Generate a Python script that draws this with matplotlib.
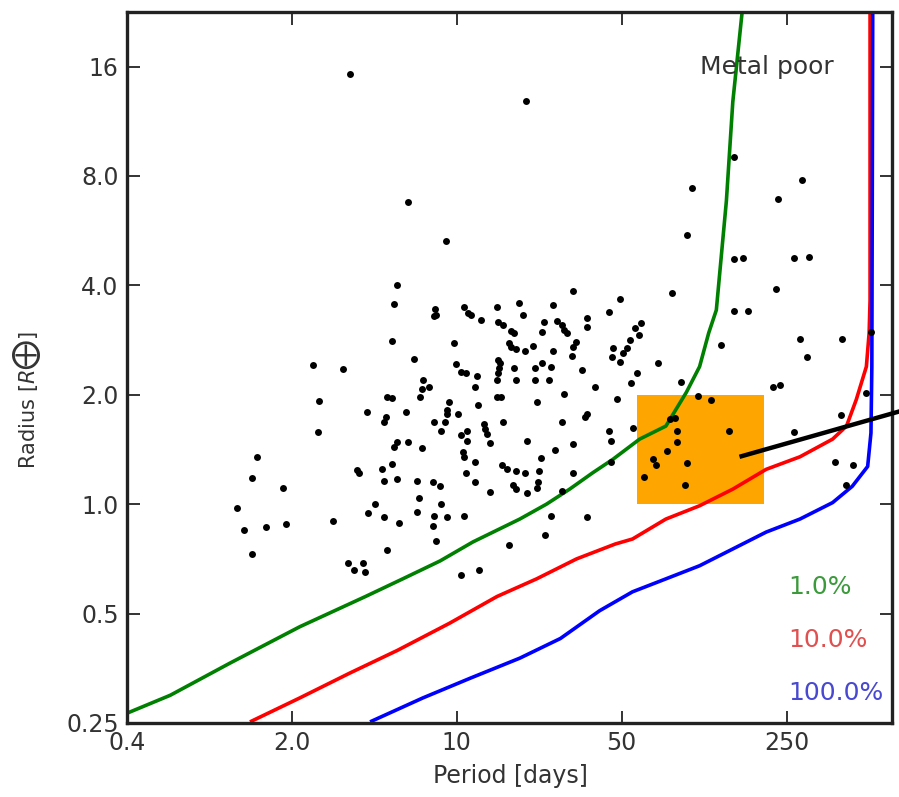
import matplotlib
matplotlib.use("Agg")
import matplotlib.pyplot as plt
from matplotlib.ticker import NullLocator, FixedLocator, FixedFormatter

# ---- planet candidates: orbital period [days] and radius [R_earth] ----
periods = [
    3.52, 19.6, 6.2, 9.0, 150, 99, 290, 230, 95, 150, 163, 268, 310, 82, 49, 226,
    44, 150, 171, 60.6, 57, 59, 54, 52.5, 50.8, 46, 45.5, 49, 132, 285, 430, 305,
    71, 58, 55, 89, 219, 235, 545, 47.6, 105, 120, 425, 56, 44, 45, 80, 84, 86, 86,
    142, 268, 78, 68, 70, 95, 62, 93, 45, 400, 480, 445, 570,
    5.6, 5.4, 31.2, 5.3, 6.6, 8.1, 8.2, 8.0, 10.7, 11.2, 11.5, 12.7, 14.8, 15.0,
    15.7, 18.3, 19.0, 17.0, 17.5, 16.6, 17.0, 17.9, 19.4, 21.0, 25.6, 23.5, 23.0,
    26.7, 27.8, 28.5, 29.4, 35.5, 35.5, 32, 31, 30.8, 25.5, 9.7, 15.0, 15.2, 15.1,
    15.0, 14.8, 9.9, 10.4, 10.9, 12.2, 17.5, 17.9, 21.4, 23, 25, 21.4, 24.5, 12,
    34, 38.5, 7.2, 7.1, 7.0, 7.6, 5.05, 5.3, 12.3, 14.8, 15.4, 21.8, 28.6, 6.1,
    5.0, 4.9, 9.3, 9.1, 9.1, 8.9, 10.1, 8.0, 8.6, 13.0, 13.2, 13.4, 13.8, 15.7,
    27.8, 35.8, 35.0, 10.4, 11.0, 11.1, 5.6, 6.2, 5.4, 7.1, 10.6, 10.7, 19.8, 31,
    26.2, 5.3, 4.8, 4.9, 5.6, 6.8, 7.9, 8.5, 10.9, 12, 12, 13.8, 15.6, 16.3, 17.9,
    19.5, 17.3, 17.9, 22, 21.8, 19.9, 22.8, 22.4, 31, 27.8, 6.9, 6.8, 8.6, 8.0,
    9.1, 10.7, 7.9, 4.9, 5.7, 8.2, 5.05, 25, 35.5, 23.6, 16.6, 10.4, 12.4,
    2.45, 3.3, 2.6, 2.57, 1.42, 1.35, 1.84, 1.17, 1.25, 1.55, 1.89, 1.35, 3.0,
    4.16, 3.77, 3.85, 4.5, 4.2, 3.45, 4.0, 3.65, 4.1,
]
radii = [
    15.3, 12.9, 6.8, 5.3, 9.0, 7.4, 7.8, 6.9, 5.5, 4.74, 4.77, 4.75, 4.8, 3.8, 3.66, 3.9,
    3.37, 3.39, 3.39, 3.15, 3.05, 2.92, 2.83, 2.69, 2.60, 2.69, 2.54, 2.46, 2.74, 2.85, 2.85, 2.54,
    2.45, 2.30, 2.16, 2.17, 2.10, 2.13, 2.02, 1.95, 1.98, 1.94, 1.76, 1.62, 1.59, 1.49, 1.72, 1.73, 1.59, 1.48,
    1.59, 1.58, 1.40, 1.33, 1.28, 1.30, 1.19, 1.13, 1.31, 1.31, 1.28, 1.13, 2.97,
    4.0, 3.55, 3.85, 2.81, 2.51, 3.44, 3.32, 3.30, 3.48, 3.36, 3.32, 3.22, 3.48, 3.18,
    3.11, 3.57, 3.32, 3.0, 2.95, 2.78, 2.70, 2.67, 2.64, 2.72, 3.53, 3.17, 2.97,
    3.2, 3.11, 3.02, 2.95, 3.26, 3.08, 2.79, 2.71, 2.56, 2.64, 2.77, 2.50, 2.45, 2.37,
    2.30, 2.20, 2.43, 2.31, 2.30, 2.25, 2.37, 2.20, 2.37, 2.45, 2.39, 2.19, 2.20, 2.10,
    2.34, 2.10, 2.2, 2.07, 1.97, 2.10, 1.97, 1.96, 1.88, 1.97, 1.97, 1.91, 2.01, 1.79,
    1.74, 1.68, 1.91, 1.82, 1.77, 1.68, 1.77, 1.68, 1.59, 1.66, 1.61, 1.56, 1.47, 1.68,
    1.68, 1.77, 1.74, 1.55, 1.59, 1.49, 1.48, 1.48, 1.44, 1.43, 1.39, 1.35, 1.49, 1.46,
    1.41, 1.29, 1.25, 1.16, 1.17, 1.16, 1.15, 1.12, 1.22, 1.31, 1.15, 1.08, 1.28, 1.25, 1.23,
    1.22, 1.13, 1.10, 1.15, 1.11, 1.07, 1.34, 1.23, 1.22, 1.09, 1.04, 0.95, 1.0, 0.93,
    0.92, 0.93, 0.87, 0.92, 0.89, 0.79, 0.75, 0.93, 0.92, 0.82, 0.77, 0.64, 0.66,
    2.42, 2.35, 1.92, 1.58, 1.35, 1.18, 1.11, 0.975, 0.85, 0.865, 0.88, 0.73, 0.90,
    1.79, 1.24, 1.22, 1.0, 0.945, 0.69, 0.69, 0.66, 0.65,
]

# ---- completeness contours (1%, 10%, 100%) ----
green_p = [0.4, 0.61, 1.09, 2.16, 4.1, 5.9, 8.5, 11.7, 18.5, 24, 30.1, 37.7, 46, 59.6,
           77, 94, 107, 117, 126, 139, 148, 163]
green_r = [0.266, 0.298, 0.365, 0.46, 0.557, 0.623, 0.698, 0.787, 0.91, 1.0, 1.10, 1.22,
           1.33, 1.51, 1.64, 2.03, 2.39, 2.96, 3.42, 6.83, 12.8, 23.4]
red_p = [1.35, 2.16, 3.52, 5.6, 9.3, 14.8, 21.8, 32.2, 47, 55.6, 77, 107, 148, 205,
         285, 392, 449, 494, 545, 560, 565, 565]
red_r = [0.253, 0.293, 0.343, 0.396, 0.47, 0.557, 0.623, 0.707, 0.777, 0.802, 0.91,
         0.99, 1.10, 1.247, 1.35, 1.51, 1.64, 1.94, 2.39, 2.96, 3.64, 23.4]
blue_p = [4.36, 7.18, 11.4, 18.5, 27.5, 40.3, 55.6, 77, 107, 148, 205, 285, 392, 475,
          552, 570, 575, 580]
blue_r = [0.253, 0.293, 0.332, 0.377, 0.427, 0.509, 0.574, 0.623, 0.677, 0.753, 0.838,
          0.91, 1.01, 1.12, 1.27, 1.57, 2.39, 23.0]
contour_labels = ["1.0%", "10.0%", "100.0%"]

# ---- highlighted region and pointer ----
box_p = [58, 200]
box_r = [1.0, 2.0]
pointer_p = [158, 900]
pointer_r = [1.35, 1.86]

x_ticks = [0.4, 2.0, 10, 50, 250]
x_ticklabels = ["0.4", "2.0", "10", "50", "250"]
y_ticks = [0.25, 0.5, 1.0, 2.0, 4.0, 8.0, 16]
y_ticklabels = ["0.25", "0.5", "1.0", "2.0", "4.0", "8.0", "16"]

fig = plt.figure(figsize=(8.99, 7.97), dpi=100)
ax = fig.add_axes([127 / 899, 1 - 723 / 797, 765 / 899, 711 / 797])
ax.set_xscale("log")
ax.set_yscale("log")
ax.set_xlim(0.4, 700)
ax.set_ylim(0.25, 22.6)

ax.fill([box_p[0], box_p[1], box_p[1], box_p[0]],
        [box_r[0], box_r[0], box_r[1], box_r[1]],
        color="#ffa500", lw=0, zorder=1)

ax.plot(green_p, green_r, color="#008000", lw=2.6, zorder=2)
ax.plot(red_p, red_r, color="#ff0000", lw=2.6, zorder=2)
ax.plot(blue_p, blue_r, color="#0000ff", lw=2.6, zorder=2)

ax.plot(periods, radii, "o", color="k", ms=5, mec="none", zorder=3)

ax.plot(pointer_p, pointer_r, color="k", lw=3.2, clip_on=False, zorder=5,
        solid_capstyle="butt")

ax.xaxis.set_major_locator(FixedLocator(x_ticks))
ax.xaxis.set_major_formatter(FixedFormatter(x_ticklabels))
ax.yaxis.set_major_locator(FixedLocator(y_ticks))
ax.yaxis.set_major_formatter(FixedFormatter(y_ticklabels))
ax.xaxis.set_minor_locator(NullLocator())
ax.yaxis.set_minor_locator(NullLocator())
ax.tick_params(which="major", direction="in", length=9, width=1.4,
               top=True, right=True, labelsize=17, pad=6,
               color="#333333", labelcolor="#333333")
for s in ax.spines.values():
    s.set_linewidth(2.4)
    s.set_color("#222222")

ax.text(0.837, 0.923, "Metal poor", transform=ax.transAxes, ha="center",
        va="center", fontsize=18, color="#333333")
for lab, col, yy in zip(contour_labels, ["#3c9a3c", "#e05050", "#4848d0"],
                        [0.191, 0.117, 0.042]):
    ax.text(0.864, yy, lab, transform=ax.transAxes, ha="left", va="center",
            fontsize=18, color=col)

fig.text(0.568, 0.026, "Period [days]", ha="center", va="center",
         fontsize=17, color="#333333")
fig.text(0.030, 0.498, r"Radius [$R\bigoplus$]", ha="center", va="center",
         rotation=90, fontsize=15, color="#333333")

fig.savefig("out.png", dpi=100)
